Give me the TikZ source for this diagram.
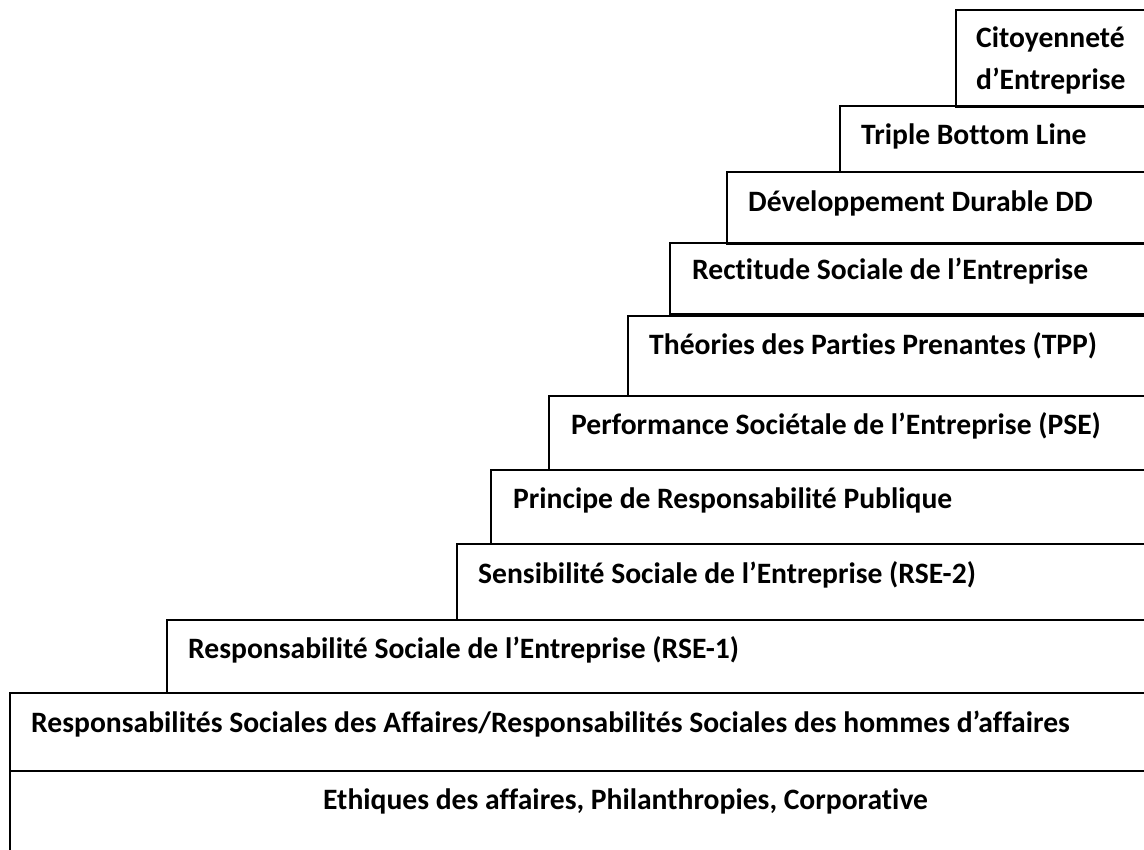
\documentclass[tikz,border=0pt]{standalone}
\usepackage{fontspec}
\setmainfont{Carlito}[Ligatures=NoCommon]
\begin{document}
\begin{tikzpicture}[x=1pt,y=-1pt,
        marche/.style={line width=2.2pt},
        etiq/.style={anchor=base west,inner sep=0pt,align=left,font=\bfseries\fontsize{29.6}{42}\selectfont}]
        \clip (0,0) rectangle (1144,850);
        % les marches, du bas vers le haut
        \draw[marche] (10,771) rectangle (1180,890);
        \draw[marche] (10,693) rectangle (1180,771);
        \draw[marche] (167,620) rectangle (1180,693);
        \draw[marche] (457,544) rectangle (1180,620);
        \draw[marche] (491,470) rectangle (1180,544);
        \draw[marche] (549,396) rectangle (1180,470);
        \draw[marche] (628,316) rectangle (1180,396);
        \draw[marche] (670,243) rectangle (1180,314);
        \draw[marche] (727,172) rectangle (1180,244);
        \draw[marche] (840,106) rectangle (1180,172);
        \draw[marche] (956,10) rectangle (1180,107);
        % les textes
        \node[etiq] (eth) at (323,809) {Ethiques des affaires, Philanthropies, Corporative};
        \node[etiq] (rsa) at (31,732) {Responsabilités Sociales des Affaires/Responsabilités Sociales des hommes d’affaires};
        \node[etiq] (rse1) at (188,658) {Responsabilité Sociale de l’Entreprise (RSE-1)};
        \node[etiq] (sens) at (478,583) {Sensibilité Sociale de l’Entreprise (RSE-2)};
        \node[etiq] (prp) at (513,508) {Principe de Responsabilité Publique};
        \node[etiq] (pse) at (571,435) {Performance Sociétale de l’Entreprise (PSE)};
        \node[etiq] (tpp) at (649,355) {Théories des Parties Prenantes (TPP)};
        \node[etiq] (rect) at (692,280) {Rectitude Sociale de l’Entreprise};
        \node[etiq] (dd) at (748,212) {Développement Durable DD};
        \node[etiq] (tbl) at (861,145) {Triple Bottom Line};
        \node[etiq] (cit) at (976,90) {Citoyenneté\\d’Entreprise};
\end{tikzpicture}
\end{document}
